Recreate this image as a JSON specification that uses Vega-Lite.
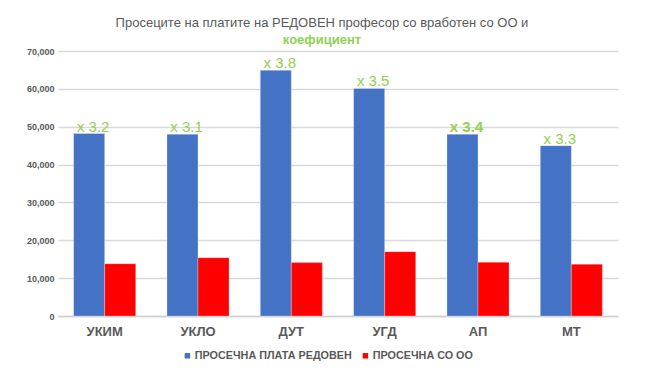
{
  "$schema": "https://vega.github.io/schema/vega-lite/v6.json",
  "autosize": {"type": "none"},
  "width": 560,
  "height": 265,
  "padding": {"left": 58, "top": 51, "right": 40, "bottom": 62},
  "background": "white",
  "title": {
    "text": "Просеците на платите на РЕДОВЕН професор со вработен со ОО и",
    "subtitle": "коефициент",
    "anchor": "middle",
    "dx": -16,
    "dy": 4,
    "offset": 4,
    "font": "Liberation Sans",
    "fontSize": 13,
    "fontWeight": "normal",
    "color": "#595959",
    "subtitleFont": "Liberation Sans",
    "subtitleFontSize": 13,
    "subtitleFontWeight": "bold",
    "subtitleColor": "#92D050",
    "subtitlePadding": 4
  },
  "data": {
    "values": [
      {"cat": "УКИМ", "series": "ПРОСЕЧНА ПЛАТА РЕДОВЕН", "value": 48200, "label": "x 3.2"},
      {"cat": "УКИМ", "series": "ПРОСЕЧНА СО ОО", "value": 13800, "label": ""},
      {"cat": "УКЛО", "series": "ПРОСЕЧНА ПЛАТА РЕДОВЕН", "value": 48000, "label": "x 3.1"},
      {"cat": "УКЛО", "series": "ПРОСЕЧНА СО ОО", "value": 15400, "label": ""},
      {"cat": "ДУТ", "series": "ПРОСЕЧНА ПЛАТА РЕДОВЕН", "value": 64900, "label": "x 3.8"},
      {"cat": "ДУТ", "series": "ПРОСЕЧНА СО ОО", "value": 14100, "label": ""},
      {"cat": "УГД", "series": "ПРОСЕЧНА ПЛАТА РЕДОВЕН", "value": 60100, "label": "x 3.5"},
      {"cat": "УГД", "series": "ПРОСЕЧНА СО ОО", "value": 17000, "label": ""},
      {"cat": "АП", "series": "ПРОСЕЧНА ПЛАТА РЕДОВЕН", "value": 48000, "label": "x 3.4"},
      {"cat": "АП", "series": "ПРОСЕЧНА СО ОО", "value": 14200, "label": ""},
      {"cat": "МТ", "series": "ПРОСЕЧНА ПЛАТА РЕДОВЕН", "value": 45000, "label": "x 3.3"},
      {"cat": "МТ", "series": "ПРОСЕЧНА СО ОО", "value": 13700, "label": ""}
    ]
  },
  "encoding": {
    "x": {
      "field": "cat",
      "type": "nominal",
      "sort": ["УКИМ", "УКЛО", "ДУТ", "УГД", "АП", "МТ"],
      "scale": {"paddingInner": 0.335, "paddingOuter": 0.1675},
      "axis": {
        "title": null,
        "labelAngle": 0,
        "labelFont": "Liberation Sans",
        "labelFontSize": 13,
        "labelFontWeight": "bold",
        "labelColor": "#595959",
        "labelPadding": 9,
        "ticks": false,
        "domainColor": "#d0d0d0",
        "domainWidth": 1.5,
        "grid": false
      }
    },
    "xOffset": {
      "field": "series",
      "type": "nominal",
      "sort": ["ПРОСЕЧНА ПЛАТА РЕДОВЕН", "ПРОСЕЧНА СО ОО"],
      "scale": {"paddingInner": 0, "paddingOuter": 0}
    },
    "y": {
      "field": "value",
      "type": "quantitative",
      "scale": {"domain": [0, 70000]},
      "axis": {
        "title": null,
        "values": [0, 10000, 20000, 30000, 40000, 50000, 60000, 70000],
        "format": ",.0f",
        "labelFont": "Liberation Sans",
        "labelFontSize": 9,
        "labelFontWeight": "bold",
        "labelColor": "#595959",
        "labelPadding": 4,
        "ticks": false,
        "domain": false,
        "gridColor": "#d9d9d9",
        "gridWidth": 1.5
      }
    }
  },
  "layer": [
    {
      "mark": {"type": "bar", "stroke": "#ffffff", "strokeOpacity": 0.35, "strokeWidth": 0.8},
      "encoding": {
        "color": {
          "field": "series",
          "type": "nominal",
          "scale": {"domain": ["ПРОСЕЧНА ПЛАТА РЕДОВЕН", "ПРОСЕЧНА СО ОО"], "range": ["#4472C4", "#FF0000"]},
          "legend": {
            "title": null,
            "orient": "none",
            "direction": "horizontal",
            "legendX": 124,
            "legendY": 299,
            "symbolType": "square",
            "symbolSize": 30,
            "symbolStrokeWidth": 0,
            "symbolOffset": 0,
            "labelFont": "Liberation Sans",
            "labelFontSize": 10.8,
            "labelFontWeight": "bold",
            "labelColor": "#595959",
            "labelOffset": 2,
            "columnPadding": 8
          }
        }
      }
    },
    {
      "transform": [{"filter": "datum.label != '' && datum.cat != 'АП'"}],
      "mark": {"type": "text", "font": "Liberation Sans", "fontSize": 15, "color": "#92D050", "baseline": "alphabetic", "dx": 4, "dy": -2},
      "encoding": {"text": {"field": "label"}}
    },
    {
      "transform": [{"filter": "datum.label != '' && datum.cat == 'АП'"}],
      "mark": {"type": "text", "font": "Liberation Sans", "fontSize": 15, "fontWeight": "bold", "color": "#92D050", "baseline": "alphabetic", "dx": 4, "dy": -2},
      "encoding": {"text": {"field": "label"}}
    }
  ],
  "config": {"view": {"stroke": null}}
}
